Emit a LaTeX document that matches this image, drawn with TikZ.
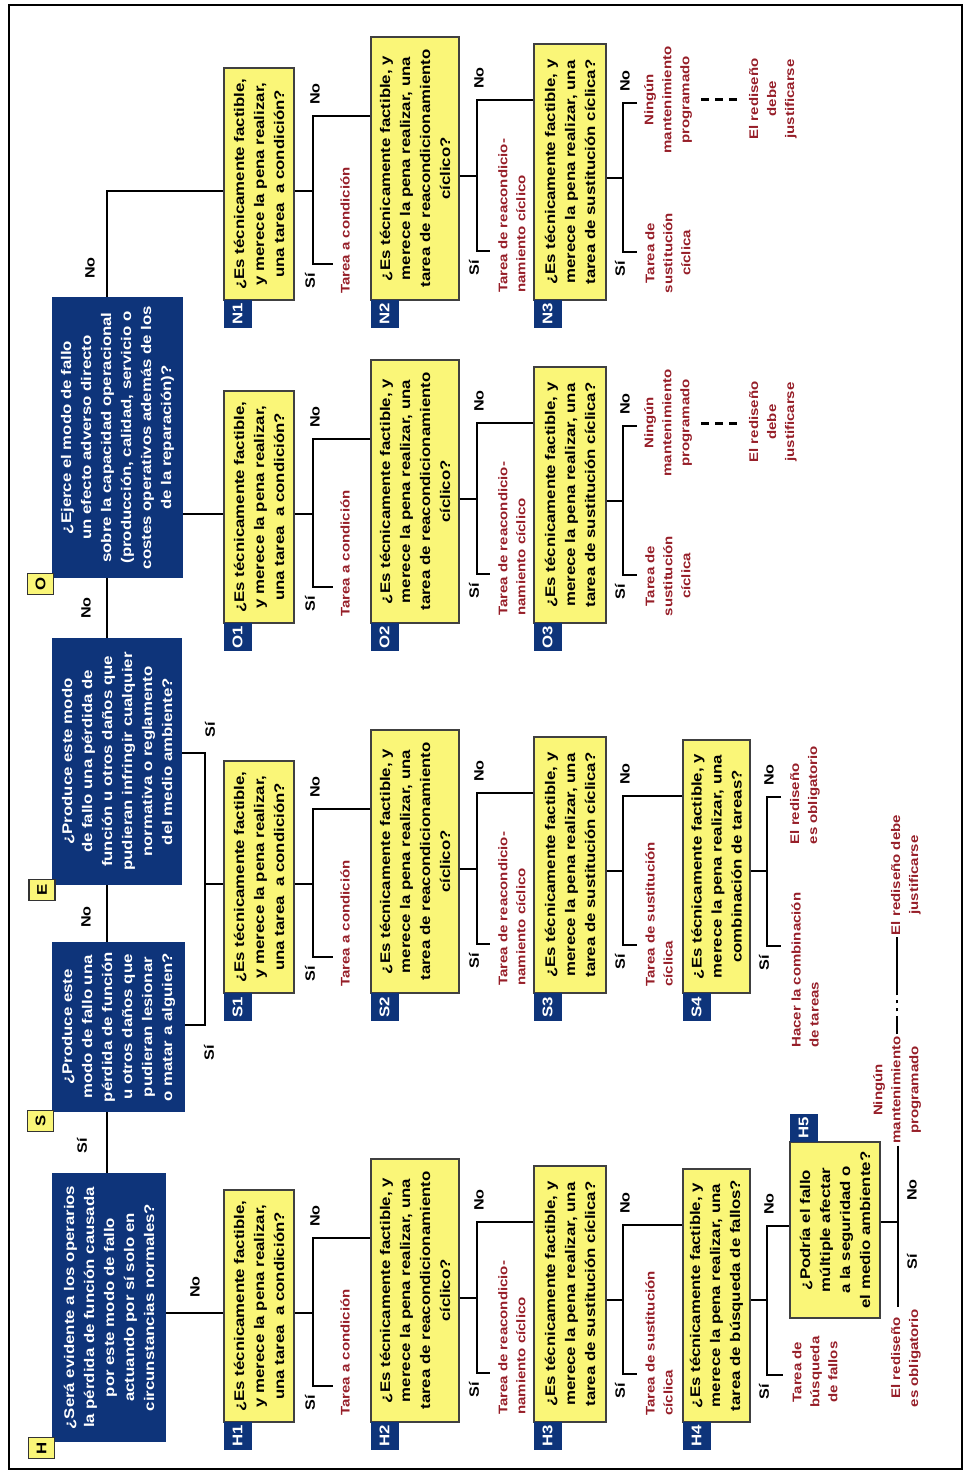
\documentclass[tikz,border=0pt]{standalone}
\usepackage{fontspec}
\newfontfamily\dgfont[FakeStretch=1.2]{Liberation Sans}
\newcommand\myfq{\dgfont\bfseries\fontsize{14}{20}\selectfont}
\newcommand\myfr{\dgfont\bfseries\fontsize{12.5}{18}\selectfont}
\newcommand\myfyn{\dgfont\bfseries\fontsize{13.5}{16}\selectfont}
\newcommand\myftag{\dgfont\bfseries\fontsize{14}{16}\selectfont}
\definecolor{qnavy}{RGB}{14,52,122}
\definecolor{qyellow}{RGB}{250,246,120}
\definecolor{redtxt}{RGB}{150,30,40}
\begin{document}
\begin{tikzpicture}[x=1pt, y=-1pt,
  conn/.style={line width=2.6pt, line join=miter},
  bbox/.style={fill=qnavy, text=white, rotate=90, align=center, font=\myfq, inner sep=2pt},
  ybox/.style={draw=black!75, line width=1.3pt, fill=qyellow, rotate=90, align=center, font=\myfq, inner sep=2pt},
  qtag/.style={fill=qnavy, text=white, rotate=90, font=\myftag, minimum width=28pt, minimum height=28pt, inner sep=0pt},
  ltag/.style={draw=black!80, line width=1.3pt, fill=qyellow, rotate=90, font=\myftag, minimum width=21pt, minimum height=26pt, inner sep=0pt},
  yn/.style={rotate=90, font=\myfyn, inner sep=1pt},
  rt/.style={rotate=90, text=redtxt, font=\myfr, inner sep=2pt},
  rdash/.style={line width=3pt, dash pattern=on 8pt off 6pt}
]
\useasboundingbox (0,0) rectangle (969,1479);
\draw[line width=2pt] (9,5) rectangle (962,1469);

% ---------- blue question boxes ----------
\node[bbox, minimum width=269pt, minimum height=114pt] (H) at (109,1307.5) {¿Será evidente a los operarios\\la pérdida de función causada\\por este modo de fallo\\actuando por sí solo en\\circunstancias normales?};
\node[bbox, minimum width=170pt, minimum height=133pt] (S) at (118.5,1027) {¿Produce este\\modo de fallo una\\pérdida de función\\u otros daños que\\pudieran lesionar\\o matar a alguien?};
\node[bbox, minimum width=247pt, minimum height=130pt] (E) at (117,761.5) {¿Produce este modo\\de fallo una pérdida de\\función u otros daños que\\pudieran infringir cualquier\\normativa o reglamento\\del medio ambiente?};
\node[bbox, minimum width=281pt, minimum height=131pt] (O) at (117.5,437.5) {¿Ejerce el modo de fallo\\un efecto adverso directo\\sobre la capacidad operacional\\(producción, calidad, servicio o\\costes operativos además de los\\de la reparación)?};
\node[ltag] (tH) at (41.5,1448) {H};
\node[ltag] (tS) at (40.5,1121) {S};
\node[ltag] (tE) at (42,890) {E};
\node[ltag] (tO) at (40.5,584) {O};

% ---------- yellow question boxes ----------
\node[ybox, minimum width=232pt, minimum height=70pt] (H1) at (259,1306) {¿Es técnicamente factible,\\y merece la pena realizar,\\una tarea\ \ a condición?};
\node[ybox, minimum width=263pt, minimum height=88pt] (H2) at (415,1290.5) {¿Es técnicamente factible, y\\merece la pena realizar, una\\tarea de reacondicionamiento\\cíclico?};
\node[ybox, minimum width=256pt, minimum height=72pt] (H3) at (570,1294) {¿Es técnicamente factible, y\\merece la pena realizar, una\\tarea de sustitución cíclica?};
\node[ybox, minimum width=253pt, minimum height=67pt] (H4) at (716.5,1295.5) {¿Es técnicamente factible, y\\merece la pena realizar, una\\tarea de búsqueda de fallos?};
\node[ybox, minimum width=176pt, minimum height=90pt] (H5) at (835,1230) {¿Podría el fallo\\múltiple afectar\\a la seguridad o\\el medio ambiente?};

\node[ybox, minimum width=232pt, minimum height=70pt] (S1) at (259,877) {¿Es técnicamente factible,\\y merece la pena realizar,\\una tarea\ \ a condición?};
\node[ybox, minimum width=263pt, minimum height=88pt] (S2) at (415,861.5) {¿Es técnicamente factible, y\\merece la pena realizar, una\\tarea de reacondicionamiento\\cíclico?};
\node[ybox, minimum width=256pt, minimum height=72pt] (S3) at (570,865) {¿Es técnicamente factible, y\\merece la pena realizar, una\\tarea de sustitución cíclica?};
\node[ybox, minimum width=253pt, minimum height=67pt] (S4) at (716.5,866.5) {¿Es técnicamente factible, y\\merece la pena realizar, una\\combinación de tareas?};

\node[ybox, minimum width=232pt, minimum height=70pt] (O1) at (259,507) {¿Es técnicamente factible,\\y merece la pena realizar,\\una tarea\ \ a condición?};
\node[ybox, minimum width=263pt, minimum height=88pt] (O2) at (415,491.5) {¿Es técnicamente factible, y\\merece la pena realizar, una\\tarea de reacondicionamiento\\cíclico?};
\node[ybox, minimum width=256pt, minimum height=72pt] (O3) at (570,495) {¿Es técnicamente factible, y\\merece la pena realizar, una\\tarea de sustitución cíclica?};

\node[ybox, minimum width=232pt, minimum height=70pt] (N1) at (259,184) {¿Es técnicamente factible,\\y merece la pena realizar,\\una tarea\ \ a condición?};
\node[ybox, minimum width=263pt, minimum height=88pt] (N2) at (415,168.5) {¿Es técnicamente factible, y\\merece la pena realizar, una\\tarea de reacondicionamiento\\cíclico?};
\node[ybox, minimum width=256pt, minimum height=72pt] (N3) at (570,172) {¿Es técnicamente factible, y\\merece la pena realizar, una\\tarea de sustitución cíclica?};

% ---------- question tags ----------
\node[qtag] (gH1) at (237.5,1436) {H1};
\node[qtag] (gH2) at (384.5,1436) {H2};
\node[qtag] (gH3) at (547.5,1436) {H3};
\node[qtag] (gH4) at (696.5,1436) {H4};
\node[qtag] (gH5) at (803.5,1127.5) {H5};
\node[qtag] (gS1) at (237.5,1007) {S1};
\node[qtag] (gS2) at (384.5,1007) {S2};
\node[qtag] (gS3) at (547.5,1007) {S3};
\node[qtag] (gS4) at (696.5,1007) {S4};
\node[qtag] (gO1) at (237.5,637) {O1};
\node[qtag] (gO2) at (384.5,637) {O2};
\node[qtag] (gO3) at (547.5,637) {O3};
\node[qtag] (gN1) at (237.5,314) {N1};
\node[qtag] (gN2) at (384.5,314) {N2};
\node[qtag] (gN3) at (547.5,314) {N3};

% ---------- red result texts ----------
\node[rt, anchor=west] (rH1) at (345,1418) {Tarea a condición};
\node[rt, anchor=west] (rS1) at (345,989) {Tarea a condición};
\node[rt, anchor=west] (rO1) at (345,619) {Tarea a condición};
\node[rt, anchor=west] (rN1) at (345,296) {Tarea a condición};
\node[rt, anchor=west, align=left] (rH2) at (512,1417) {Tarea de reacondicio-\\namiento cíclico};
\node[rt, anchor=west, align=left] (rS2) at (512,988) {Tarea de reacondicio-\\namiento cíclico};
\node[rt, anchor=west, align=left] (rO2) at (512,618) {Tarea de reacondicio-\\namiento cíclico};
\node[rt, anchor=west, align=left] (rN2) at (512,295) {Tarea de reacondicio-\\namiento cíclico};
\node[rt, anchor=west, align=left] (rH3) at (659,1418) {Tarea de sustitución\\cíclica};
\node[rt, anchor=west, align=left] (rS3) at (659,989) {Tarea de sustitución\\cíclica};
\node[rt, align=center] (rO3) at (668,576) {Tarea de\\sustitución\\cíclica};
\node[rt, align=center] (rN3) at (668,253) {Tarea de\\sustitución\\cíclica};
\node[rt, align=center] (nmO) at (668,423) {Ningún\\mantenimiento\\programado};
\node[rt, align=center] (nmN) at (668,100) {Ningún\\mantenimiento\\programado};
\node[rt, align=center] (rdO) at (773,422) {El rediseño\\debe\\justificarse};
\node[rt, align=center] (rdN) at (773,99) {El rediseño\\debe\\justificarse};
\node[rt, anchor=west, align=left] (rS4a) at (805,1050) {Hacer la combinación\\de tareas};
\node[rt, align=left] (rS4b) at (805,795) {El rediseño\\es obligatorio};
\node[rt, align=center] (rH4) at (815,1372) {Tarea de\\búsqueda\\de fallos};
\node[rt, align=center] (rdoH) at (906,1358) {El rediseño\\es obligatorio};
\node[rt, align=center] (nmH) at (897,1090) {Ningún\\mantenimiento\\programado};
\node[rt, align=center] (rdjH) at (906,875) {El rediseño debe\\justificarse};

% ---------- main chain ----------
\draw[conn] (H.east -| 107,0) -- (S.west -| 107,0);
\draw[conn] (S.east -| 107,0) -- (E.west -| 107,0);
\draw[conn] (E.east -| 107,0) -- (O.west -| 107,0);
\draw[conn] (O.east -| 107,0) |- (N1.north |- 0,191);
\draw[conn] (H.south |- 0,1313) -- (H1.north |- 0,1313);
\coordinate (jS) at (205,884);
\draw[conn] (S.south |- 0,1025) -| (jS) |- (E.south |- 0,753);
\draw[conn] (jS) -- (S1.north |- jS);
\draw[conn] (O.south |- 0,514) -- (O1.north |- 0,514);

\node[yn] (lHS) at (82,1146) {Sí};
\node[yn] (lSE) at (86,917) {No};
\node[yn] (lEO) at (86,608) {No};
\node[yn] (lON) at (90,268) {No};
\node[yn] (lHH) at (195,1287) {No};
\node[yn] (lSS) at (209,1053) {Sí};
\node[yn] (lES) at (210,730) {Sí};

% ---------- H row ----------
\draw[conn] (H1.south |- 0,1313) -- (313,1313);
\draw[conn] (H2.north |- 0,1238) -| (313,1386) -- (333,1386);
\draw[conn] (H2.south |- 0,1298) -- (477,1298);
\draw[conn] (H3.north |- 0,1222) -| (477,1373) -- (490,1373);
\draw[conn] (H3.south |- 0,1300) -- (623,1300);
\draw[conn] (H4.north |- 0,1225) -| (623,1374) -- (637,1374);
\draw[conn] (H4.south |- 0,1300) -- (767,1300);
\draw[conn] (H5.north |- 0,1226) -| (767,1375) -- (783,1375);
\draw[conn] (H5.south |- 0,1222) -- (898,1222);
\draw[line width=2.2pt] (898,0 |- nmH.west) -- (898,0 |- rdoH.east);
\draw[line width=2.6pt, dash pattern=on 18pt off 5pt on 3pt off 5pt on 3pt off 5pt on 60pt] (nmH.east) -- (nmH.east |- rdjH.west);

% ---------- S row ----------
\draw[conn] (S1.south |- 0,884) -- (313,884);
\draw[conn] (S2.north |- 0,809) -| (313,957) -- (333,957);
\draw[conn] (S2.south |- 0,869) -- (477,869);
\draw[conn] (S3.north |- 0,793) -| (477,944) -- (490,944);
\draw[conn] (S3.south |- 0,871) -- (623,871);
\draw[conn] (S4.north |- 0,796) -| (623,945) -- (637,945);
\draw[conn] (S4.south |- 0,871) -- (767,871);
\draw[conn] (781,797) -- (767,797) -- (767,946) -- (781,946);

% ---------- O row ----------
\draw[conn] (O1.south |- 0,514) -- (313,514);
\draw[conn] (O2.north |- 0,439) -| (313,587) -- (333,587);
\draw[conn] (O2.south |- 0,499) -- (477,499);
\draw[conn] (O3.north |- 0,423) -| (477,574) -- (490,574);
\draw[conn] (O3.south |- 0,501) -- (623,501);
\draw[conn] (637,426) -- (623,426) -- (623,575) -- (637,575);
\draw[rdash, shorten <=7pt, shorten >=4pt] (nmO.south) -- (nmO.south -| rdO.north);

% ---------- N row ----------
\draw[conn] (N1.south |- 0,191) -- (313,191);
\draw[conn] (N2.north |- 0,116) -| (313,264) -- (333,264);
\draw[conn] (N2.south |- 0,176) -- (477,176);
\draw[conn] (N3.north |- 0,100) -| (477,251) -- (490,251);
\draw[conn] (N3.south |- 0,178) -- (623,178);
\draw[conn] (637,103) -- (623,103) -- (623,252) -- (637,252);
\draw[rdash, shorten <=7pt, shorten >=4pt] (nmN.south) -- (nmN.south -| rdN.north);

% ---------- Si / No labels ----------
\node[yn] (a1) at (315,1216) {No};  \node[yn] (b1) at (310,1403) {Sí};
\node[yn] (a2) at (479,1200) {No};  \node[yn] (b2) at (474,1390) {Sí};
\node[yn] (a3) at (625,1203) {No};  \node[yn] (b3) at (620,1391) {Sí};
\node[yn] (a4) at (769,1204) {No};  \node[yn] (b4) at (764,1392) {Sí};
\node[yn] (a5) at (912,1190) {No};  \node[yn] (b5) at (912,1262) {Sí};
\node[yn] (c1) at (315,787) {No};   \node[yn] (d1) at (310,974) {Sí};
\node[yn] (c2) at (479,771) {No};   \node[yn] (d2) at (474,961) {Sí};
\node[yn] (c3) at (625,774) {No};   \node[yn] (d3) at (620,962) {Sí};
\node[yn] (c4) at (769,775) {No};   \node[yn] (d4) at (764,963) {Sí};
\node[yn] (e1) at (315,417) {No};   \node[yn] (f1) at (310,604) {Sí};
\node[yn] (e2) at (479,401) {No};   \node[yn] (f2) at (474,591) {Sí};
\node[yn] (e3) at (625,404) {No};   \node[yn] (f3) at (620,592) {Sí};
\node[yn] (g1) at (315,94) {No};    \node[yn] (h1) at (310,281) {Sí};
\node[yn] (g2) at (479,78) {No};    \node[yn] (h2) at (474,268) {Sí};
\node[yn] (g3) at (625,81) {No};    \node[yn] (h3) at (620,269) {Sí};
\end{tikzpicture}
\end{document}
